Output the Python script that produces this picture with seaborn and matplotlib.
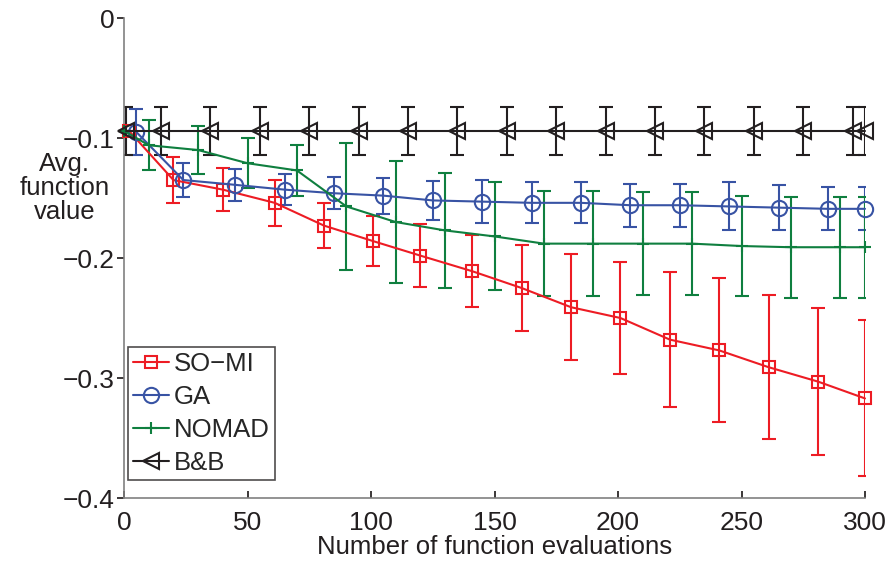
import numpy as np
import pandas as pd
import seaborn as sns
import matplotlib.pyplot as plt

# valores
x_somi = [2, 20, 40, 61, 81, 101, 120, 141, 161, 181, 201, 221, 241, 261, 281, 300]
y_somi = [-0.094, -0.135, -0.143, -0.154, -0.173, -0.186, -0.198, -0.211, -0.225, -0.241,
          -0.250, -0.268, -0.277, -0.291, -0.303, -0.317]
e_somi = [0.0, 0.019, 0.018, 0.019, 0.019, 0.021, 0.026, 0.030, 0.036, 0.044,
          0.047, 0.056, 0.060, 0.060, 0.061, 0.065]

x_ga = [5, 24, 45, 65, 85, 105, 125, 145, 165, 185, 205, 225, 245, 265, 285, 300]
y_ga = [-0.095, -0.135, -0.139, -0.143, -0.146, -0.148, -0.152, -0.153, -0.154, -0.154,
        -0.156, -0.156, -0.157, -0.158, -0.159, -0.159]
e_ga = [0.019, 0.0145, 0.0136, 0.013, 0.0135, 0.015, 0.016, 0.018, 0.017, 0.017,
        0.018, 0.018, 0.020, 0.019, 0.018, 0.018]

x_nomad = [0, 10, 30, 50, 70, 90, 110, 130, 150, 170, 190, 210, 230, 250, 270, 290, 300]
y_nomad = [-0.094, -0.106, -0.110, -0.121, -0.127, -0.157, -0.170, -0.177, -0.182, -0.188,
           -0.188, -0.188, -0.188, -0.190, -0.191, -0.191, -0.191]
e_nomad = [0.0, 0.021, 0.020, 0.021, 0.021, 0.053, 0.051, 0.048, 0.045, 0.044,
           0.044, 0.043, 0.043, 0.042, 0.042, 0.042, 0.042]

x_bb = [1, 15, 35, 55, 75, 95, 115, 135, 155, 175, 195, 215, 235, 255, 275, 295, 300]
y_bb = [-0.094] * 17
e_bb = [0.02] * 17

metodos = ['SO\u2212MI', 'GA', 'NOMAD', 'B&B']
cores = ['#ED1C24', '#3853A4', '#0F7F3F', '#231F20']
marcadores = ['s', 'o', '+', '<']
tamanhos = [9, 11, 9, 11]

xs = [x_somi, x_ga, x_nomad, x_bb]
ys = [y_somi, y_ga, y_nomad, y_bb]
es = [e_somi, e_ga, e_nomad, e_bb]

sns.set_theme(style='white')
plt.rcParams['font.family'] = ['Liberation Sans', 'DejaVu Sans']

fig = plt.figure(figsize=(8.89, 5.64), dpi=100)
ax = fig.add_axes([0.1395, 0.117, 0.8335, 0.851])

for i in range(4):
    df = pd.DataFrame({'x': xs[i], 'y': ys[i]})
    ax.errorbar(xs[i], ys[i], yerr=es[i], fmt='none', ecolor=cores[i],
                elinewidth=1.5, capsize=5, capthick=1.5, zorder=2)
    sns.lineplot(data=df, x='x', y='y', ax=ax, color=cores[i], marker=marcadores[i],
                 markersize=tamanhos[i], markerfacecolor='none', markeredgecolor=cores[i],
                 markeredgewidth=1.5, linewidth=1.5, label=metodos[i], clip_on=False, zorder=3)

ax.set_xlim(0, 300)
ax.set_ylim(-0.4, 0)
ax.set_xticks([0, 50, 100, 150, 200, 250, 300])
ax.set_yticks([0, -0.1, -0.2, -0.3, -0.4])
ax.set_yticklabels(['0', '\u22120.1', '\u22120.2', '\u22120.3', '\u22120.4'])

for s in ['top', 'right']:
    ax.spines[s].set_visible(False)
for s in ['left', 'bottom']:
    ax.spines[s].set_color('#808080')
    ax.spines[s].set_linewidth(1.2)

ax.tick_params(axis='x', direction='in', length=5, labelsize=19, colors='#231F20', pad=9, bottom=True)
ax.tick_params(axis='y', direction='out', length=5, labelsize=19, colors='#231F20', pad=2, left=True)
for t in ax.get_xticklines() + ax.get_yticklines():
    t.set_color('#808080')

ax.set_xlabel('Number of function evaluations', fontsize=18.5, color='#231F20', labelpad=0)
ax.set_ylabel('Avg.\nfunction\nvalue', fontsize=18.5, color='#231F20', rotation=0,
              ha='center', va='center', linespacing=1.0)
ax.yaxis.set_label_coords(-0.08, 0.646)

leg = ax.legend(loc='lower left', bbox_to_anchor=(0.005, 0.0375), borderaxespad=0,
                fontsize=18.5, frameon=True, fancybox=False, handlelength=1.4,
                handletextpad=0.2, labelspacing=0.35, borderpad=0.2)
leg.get_frame().set_edgecolor('#231F20')
leg.get_frame().set_linewidth(1.2)

fig.savefig('out.png', dpi=100)
